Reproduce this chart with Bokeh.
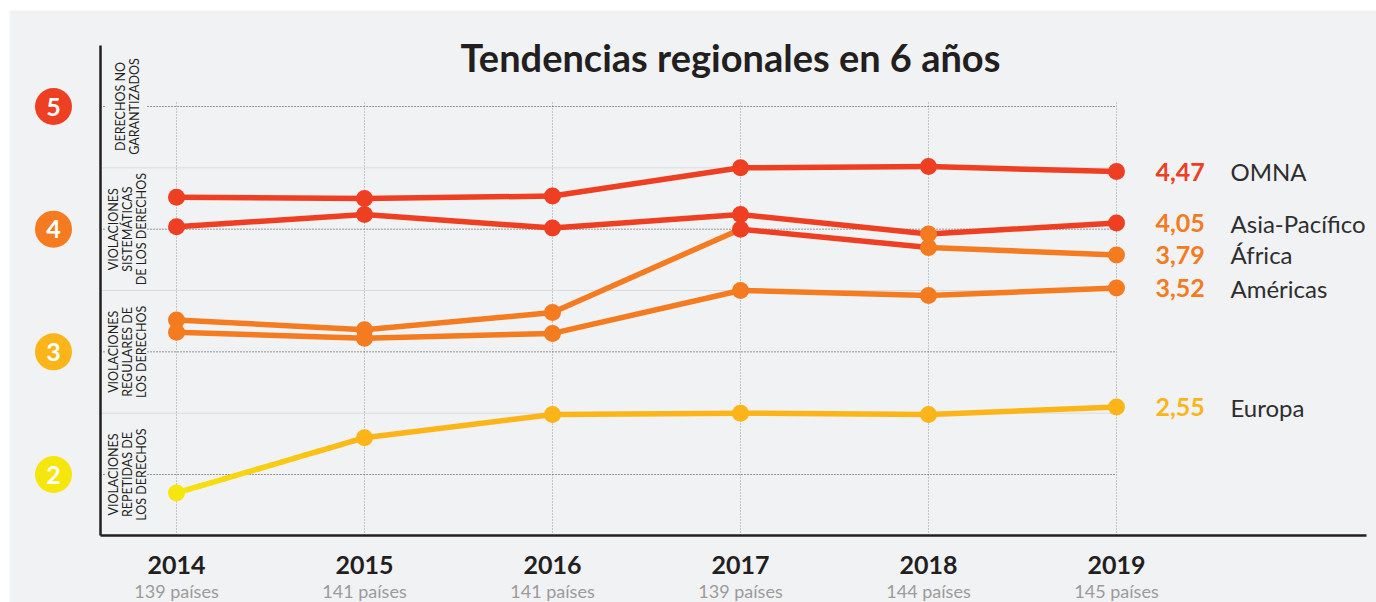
from bokeh.plotting import figure
from bokeh.models import Range1d
from bokeh.core.properties import value
from bokeh.embed import file_html
from bokeh.resources import INLINE
import math

# ---------------- data ----------------
years = [2014, 2015, 2016, 2017, 2018, 2019]
countries = ["139 países", "141 países", "141 países", "139 países", "144 países", "145 países"]

regions = ["OMNA", "Asia-Pacífico", "África", "Américas", "Europa"]
omna = [4.26, 4.25, 4.27, 4.50, 4.51, 4.47]
asia_pacifico = [4.02, 4.12, 4.01, 4.12, 3.96, 4.05]
africa = [3.26, 3.18, 3.32, 4.00, 3.85, 3.79]
americas = [3.16, 3.11, 3.15, 3.50, 3.46, 3.52]
europa = [1.85, 2.30, 2.49, 2.50, 2.49, 2.55]

levels = [5, 4, 3, 2]
level_text = [
    ["DERECHOS NO", "GARANTIZADOS"],
    ["VIOLACIONES", "SISTEMÁTICAS", "DE LOS DERECHOS"],
    ["VIOLACIONES", "REGULARES DE", "LOS DERECHOS"],
    ["VIOLACIONES", "REPETIDAS DE", "LOS DERECHOS"],
]
title = "Tendencias regionales en 6 años"

# ---------------- styles ----------------
RED = "#ef3f23"
ORANGE = "#f47b20"
AMBER = "#fbb518"
YELLOW = "#f5e60d"
DARK = "#231f20"
FONT = "Lato"

level_colors = [RED, ORANGE, AMBER, YELLOW]
label_colors = [RED, ORANGE, ORANGE, ORANGE, AMBER]
seg_colors = [
    [RED] * 5,
    [RED] * 5,
    [ORANGE, ORANGE, ORANGE, RED, ORANGE],
    [ORANGE] * 5,
    [(YELLOW, AMBER), AMBER, AMBER, AMBER, AMBER],
]


def dot_color(v):
    if v >= 4:
        return RED
    if v >= 3:
        return ORANGE
    if v >= 2:
        return AMBER
    return YELLOW


# pixel geometry -> data ranges
W, H = 1376, 602
FL, FT = 9, 10
PX_YEAR = 188.0
PX_UNIT = 122.67
X_2014_PX = 176
Y_5_PX = 106
x_start = years[0] - (X_2014_PX - FL) / PX_YEAR
x_end = x_start + (W - FL) / PX_YEAR
y_top = 5 + (Y_5_PX - FT) / PX_UNIT
y_bottom = y_top - (H - FT) / PX_UNIT


def X(px):
    return x_start + (px - FL) / PX_YEAR


def Y(py):
    return y_top - (py - FT) / PX_UNIT


p = figure(width=W, height=H, x_range=Range1d(x_start, x_end), y_range=Range1d(y_bottom, y_top),
           x_axis_type=None, y_axis_type=None, toolbar_location=None, output_backend="svg",
           min_border_left=FL, min_border_top=FT, min_border_right=0, min_border_bottom=0,
           background_fill_color="#f1f2f4", border_fill_color="white", outline_line_color=None)

# vertical grid lines
p.segment(x0=years, x1=years, y0=[Y(535)] * len(years), y1=[Y(100)] * len(years),
          line_color="#9a9a9a", line_width=1, line_dash="1 2")
# half-level light grid lines
halves = [4.5, 3.5, 2.5]
p.segment(x0=[X(100)] * 3, x1=[years[-1]] * 3, y0=halves, y1=halves,
          line_color="#c4c5c8", line_width=1, line_dash="1 1")
# integer level grid lines
p.segment(x0=[X(147)] * 4, x1=[years[-1]] * 4, y0=levels, y1=levels,
          line_color="#3a3a3a", line_width=1, line_dash="1 2")
p.segment(x0=[X(100)] * 4, x1=[X(105)] * 4, y0=levels, y1=levels,
          line_color="#3a3a3a", line_width=1, line_dash="1 2")

# axes lines
p.segment(x0=[X(100)], x1=[X(100)], y0=[Y(535)], y1=[Y(45)], line_color=DARK, line_width=2.5)
p.segment(x0=[X(100)], x1=[X(1366)], y0=[Y(535)], y1=[Y(535)], line_color=DARK, line_width=2.5)

# series lines
series = [omna, asia_pacifico, africa, americas, europa]
sx0, sy0, sx1, sy1, sc = [], [], [], [], []
N_GRAD = 16


def hex2rgb(h):
    return tuple(int(h[i:i + 2], 16) for i in (1, 3, 5))


for vals, cols in zip(series, seg_colors):
    for i in range(len(years) - 1):
        c = cols[i]
        if isinstance(c, tuple):
            a, b = hex2rgb(c[0]), hex2rgb(c[1])
            for k in range(N_GRAD):
                t0, t1 = k / N_GRAD, (k + 1) / N_GRAD
                tm = (t0 + t1) / 2
                sx0.append(years[i] + (years[i + 1] - years[i]) * t0)
                sx1.append(years[i] + (years[i + 1] - years[i]) * t1)
                sy0.append(vals[i] + (vals[i + 1] - vals[i]) * t0)
                sy1.append(vals[i] + (vals[i + 1] - vals[i]) * t1)
                rgb = tuple(int(round(a[j] + (b[j] - a[j]) * tm)) for j in range(3))
                sc.append("#%02x%02x%02x" % rgb)
        else:
            sx0.append(years[i]); sx1.append(years[i + 1])
            sy0.append(vals[i]); sy1.append(vals[i + 1])
            sc.append(c)
p.segment(x0=sx0, y0=sy0, x1=sx1, y1=sy1, line_color=sc, line_width=5.5, line_cap="round")

# dots
dx, dy, dc = [], [], []
for vals in series:
    for yr, v in zip(years, vals):
        dx.append(yr); dy.append(v); dc.append(dot_color(v))
p.scatter(x=dx, y=dy, size=17, fill_color=dc, line_color=None)

# right-hand labels
last_vals = [s[-1] for s in series]
p.text(x=[X(1155)] * 5, y=last_vals, text=[f"{v:.2f}".replace(".", ",") for v in last_vals],
       text_color=label_colors, text_font=value(FONT), text_font_style="bold",
       text_font_size="25px", text_baseline="middle", text_align="left")
p.text(x=[X(1230)] * 5, y=last_vals, text=regions,
       text_color="#2e2e2e", text_font=value(FONT), text_font_size="24px",
       text_baseline="middle", text_align="left")

# left level circles
p.scatter(x=[X(53)] * 4, y=levels, size=37, fill_color=level_colors, line_color=None)
p.text(x=[X(53)] * 4, y=levels, text=[str(l) for l in levels], text_color="white",
       text_font=value(FONT), text_font_style="bold", text_font_size="25px",
       text_align="center", text_baseline="middle")

# vertical band labels
tx, ty, tt = [], [], []
for lvl, lines in zip(levels, level_text):
    n = len(lines)
    for i, s in enumerate(lines):
        tx.append(X(126.5 + (i - (n - 1) / 2) * 14))
        ty.append(lvl)
        tt.append(s)
p.text(x=tx, y=ty, text=tt, angle=math.pi / 2, text_color=DARK, text_font=value(FONT),
       text_font_size="12.5px", text_align="center", text_baseline="middle")

# x labels
p.text(x=years, y=[Y(564)] * 6, text=[str(y) for y in years], text_color=DARK,
       text_font=value(FONT), text_font_style="bold", text_font_size="25px",
       text_align="center", text_baseline="middle")
p.text(x=years, y=[Y(590)] * 6, text=countries, text_color="#9b9b9b",
       text_font=value(FONT), text_font_size="18px", text_align="center", text_baseline="middle")

# title
p.text(x=[X(730)], y=[Y(56)], text=[title], text_color=DARK, text_font=value(FONT),
       text_font_style="bold", text_font_size="38px", text_align="center", text_baseline="middle")

open("out.html", "w").write(file_html(p, INLINE))
